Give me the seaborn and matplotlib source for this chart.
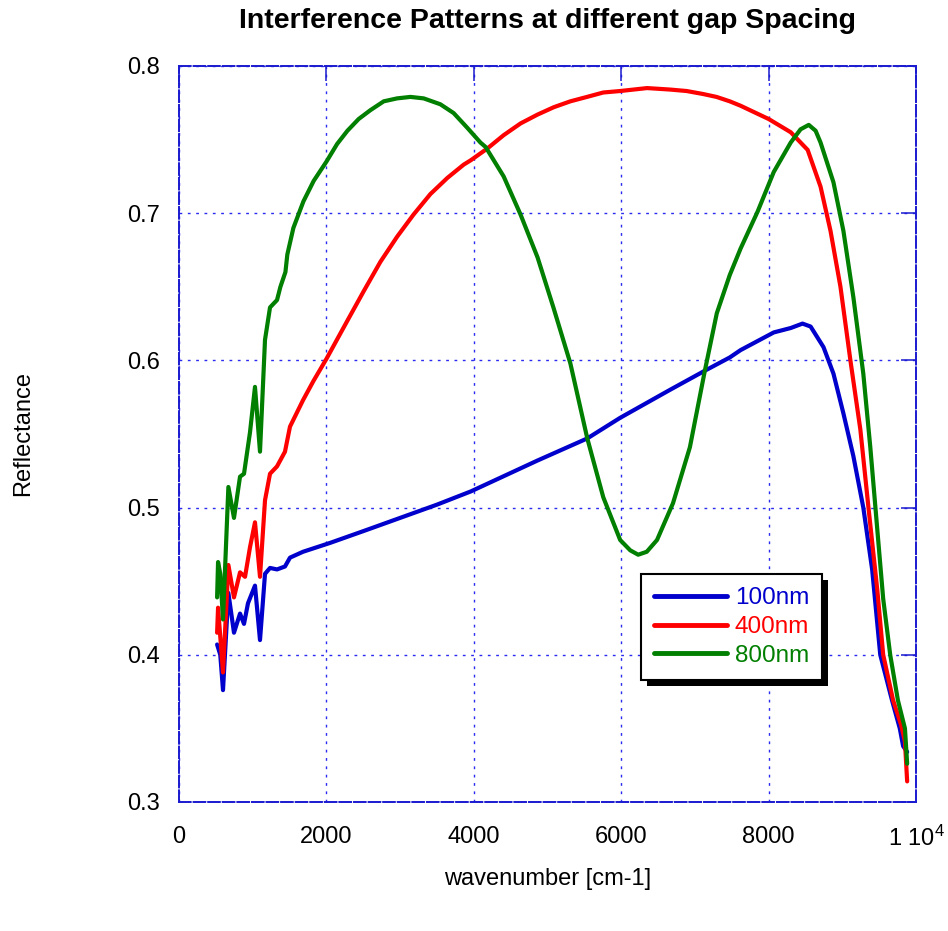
import matplotlib
matplotlib.use("Agg")
import matplotlib.pyplot as plt
from matplotlib.patches import Rectangle
from matplotlib.transforms import IdentityTransform
import numpy as np
import pandas as pd
import seaborn as sns

# Reflectance spectra for three gap spacings
x_100 = [517, 560, 597, 670, 746, 828, 882, 936, 1031, 1099, 1167, 1235, 1330, 1438, 1506,
         1683, 2049, 2500, 3000, 3500, 3960, 4865, 5540, 5986, 6662, 7135, 7473, 7620,
         8070, 8300, 8460, 8570, 8745, 8880, 9015, 9150, 9285, 9405, 9515, 9675, 9780,
         9825, 9880]
y_100 = [0.407, 0.400, 0.376, 0.442, 0.415, 0.428, 0.421, 0.435, 0.447, 0.410, 0.455, 0.459,
         0.458, 0.460, 0.466, 0.470, 0.476, 0.484, 0.493, 0.502, 0.511, 0.532, 0.547, 0.561,
         0.580, 0.593, 0.602, 0.607, 0.619, 0.622, 0.625, 0.623, 0.609, 0.591, 0.564, 0.535,
         0.500, 0.458, 0.400, 0.369, 0.350, 0.338, 0.334]

x_400 = [517, 530, 597, 670, 746, 828, 896, 963, 1031, 1099, 1167, 1235, 1330, 1438, 1506,
         1683, 1824, 2000, 2285, 2506, 2733, 2959, 3181, 3411, 3642, 3863, 3960, 4185, 4405,
         4635, 4865, 5085, 5310, 5536, 5757, 5986, 6351, 6662, 6888, 7108, 7293, 7473, 7620,
         8000, 8300, 8530, 8705, 8840, 8975, 9110, 9245, 9355, 9475, 9555, 9690, 9800, 9850,
         9880]
y_400 = [0.415, 0.432, 0.388, 0.461, 0.439, 0.456, 0.453, 0.473, 0.490, 0.453, 0.505, 0.523,
         0.528, 0.538, 0.555, 0.573, 0.586, 0.601, 0.627, 0.647, 0.667, 0.684, 0.699, 0.713,
         0.724, 0.733, 0.736, 0.744, 0.753, 0.761, 0.767, 0.772, 0.776, 0.779, 0.782, 0.783,
         0.785, 0.784, 0.783, 0.781, 0.779, 0.776, 0.773, 0.764, 0.755, 0.743, 0.718, 0.688,
         0.650, 0.600, 0.553, 0.500, 0.444, 0.400, 0.369, 0.352, 0.341, 0.314]

x_800 = [517, 530, 560, 597, 670, 746, 828, 882, 963, 1031, 1099, 1167, 1235, 1330, 1376,
         1444, 1470, 1552, 1688, 1828, 2000, 2145, 2285, 2438, 2597, 2778, 2959, 3140, 3320,
         3546, 3727, 3912, 4090, 4160, 4405, 4635, 4865, 5080, 5310, 5540, 5757, 5986, 6122,
         6230, 6347, 6486, 6703, 6932, 7135, 7297, 7473, 7620, 7850, 8070, 8300, 8434, 8545,
         8638, 8705, 8880, 9015, 9150, 9285, 9380, 9475, 9555, 9650, 9755, 9850, 9880]
y_800 = [0.439, 0.463, 0.455, 0.424, 0.514, 0.493, 0.521, 0.523, 0.551, 0.582, 0.538, 0.614,
         0.636, 0.641, 0.650, 0.660, 0.672, 0.690, 0.708, 0.722, 0.735, 0.747, 0.756, 0.764,
         0.770, 0.776, 0.778, 0.779, 0.778, 0.774, 0.768, 0.758, 0.748, 0.745, 0.725, 0.699,
         0.670, 0.636, 0.598, 0.547, 0.507, 0.478, 0.471, 0.468, 0.470, 0.478, 0.503, 0.541,
         0.593, 0.632, 0.658, 0.676, 0.701, 0.728, 0.748, 0.757, 0.760, 0.756, 0.748, 0.721,
         0.688, 0.643, 0.591, 0.541, 0.485, 0.438, 0.400, 0.369, 0.350, 0.326]

series = ["100nm", "400nm", "800nm"]
colors = ["#0000cc", "#ff0000", "#007f00"]
x_ticks = [0, 2000, 4000, 6000, 8000, 10000]
x_tick_labels = ["0", "2000", "4000", "6000", "8000", r"1 10$^{4}$"]
y_ticks = [0.3, 0.4, 0.5, 0.6, 0.7, 0.8]

df = pd.concat([
    pd.DataFrame({"wavenumber": x_100, "reflectance": y_100, "gap": series[0]}),
    pd.DataFrame({"wavenumber": x_400, "reflectance": y_400, "gap": series[1]}),
    pd.DataFrame({"wavenumber": x_800, "reflectance": y_800, "gap": series[2]}),
], ignore_index=True)

sns.set_style("white")
plt.rcParams["font.family"] = ["Liberation Sans", "DejaVu Sans"]
plt.rcParams["mathtext.fontset"] = "custom"
plt.rcParams["mathtext.rm"] = "Liberation Sans"
plt.rcParams["mathtext.default"] = "regular"
plt.rcParams["text.color"] = "black"
plt.rcParams["axes.labelcolor"] = "black"

fig = plt.figure(figsize=(9.48, 9.31), dpi=100)
ax = fig.add_axes([179 / 948, 1 - 802 / 931, 737 / 948, 736 / 931])

sns.lineplot(data=df, x="wavenumber", y="reflectance", hue="gap",
             palette=dict(zip(series, colors)), linewidth=3.0, ax=ax,
             estimator=None, sort=True)
for ln in ax.get_lines():
    ln.set_solid_joinstyle("round")

ax.set_xlim(0, 10000)
ax.set_ylim(0.3, 0.8)
ax.set_xticks(x_ticks)
ax.set_xticklabels(x_tick_labels)
ax.set_yticks(y_ticks)
ax.set_yticklabels([f"{v:.1f}" for v in y_ticks])

frame_blue = "#1a1ad0"
grid_blue = "#2a2af0"
ax.grid(True, color=grid_blue, linestyle=(0, (2, 4)), linewidth=1.0)
for s in ax.spines.values():
    s.set_color(frame_blue)
    s.set_linewidth(1.4)
    s.set_linestyle((0, (6, 1.5)))
ax.tick_params(axis="both", direction="in", length=11, width=1.1, color=frame_blue,
               labelsize=17, labelcolor="black", top=True, right=True)
ax.tick_params(axis="x", pad=17)
ax.tick_params(axis="y", pad=14)

ax.set_xlabel("wavenumber [cm-1]", fontsize=17)
ax.set_ylabel("Reflectance", fontsize=17)
ax.xaxis.set_label_coords(0.5, -0.089)
ax.yaxis.set_label_coords(-0.197, 0.5)

fig.text(0.578, 1 - 21 / 931, "Interference Patterns at different gap Spacing",
         ha="center", va="center", fontsize=20.5, fontweight="bold")

leg = ax.legend(loc="upper left", bbox_to_anchor=(0.627, 0.310), fontsize=17.5,
                frameon=True, fancybox=False, shadow=False,
                handlelength=3.0, borderpad=0.55, labelspacing=0.28, handletextpad=0.3,
                borderaxespad=0.0)
leg.get_frame().set_edgecolor("black")
leg.get_frame().set_linewidth(1.5)
leg.get_frame().set_alpha(1.0)
for line, text, c in zip(leg.get_lines(), leg.get_texts(), colors):
    line.set_linewidth(3.5)
    text.set_color(c)

# solid black drop shadow behind the legend box
fig.canvas.draw()
bb = leg.get_window_extent()
shadow = Rectangle((bb.x0 + 6, bb.y0 - 6), bb.width, bb.height, transform=IdentityTransform(),
                   facecolor="black", edgecolor="none", zorder=leg.get_zorder() - 0.1,
                   clip_on=False)
ax.add_patch(shadow)

fig.savefig("out.png", dpi=100)
